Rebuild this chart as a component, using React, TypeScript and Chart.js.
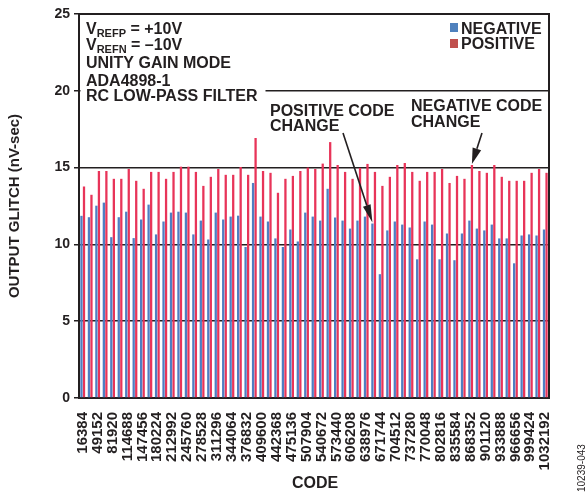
import React, { useEffect, useRef } from 'react';
import { Chart, registerables } from 'chart.js';

Chart.register(...registerables);

const codes = [
  '16384', '32768', '49152', '65536', '81920', '98304', '114688', '131072', '147456', '163840',
  '180224', '196608', '212992', '229376', '245760', '262144', '278528', '294912', '311296', '327680',
  '344064', '360448', '376832', '393216', '409600', '425984', '442368', '458752', '475136', '491520',
  '507904', '524288', '540672', '557056', '573440', '589824', '606208', '622592', '638976', '655360',
  '671744', '688128', '704512', '720896', '737280', '753664', '770048', '786432', '802816', '819200',
  '835584', '851968', '868352', '884736', '901120', '917504', '933888', '950272', '966656', '983040',
  '999424', '1015808', '1032192',
];

const negativeGlitch = [
  11.86, 11.77, 12.52, 12.72, 10.47, 11.77, 12.13, 10.41, 11.62, 12.59,
  10.65, 11.49, 12.07, 12.13, 12.07, 10.65, 11.55, 10.32, 12.07, 11.62,
  11.81, 11.87, 9.83, 14.0, 11.81, 11.49, 10.39, 9.83, 10.97, 10.19,
  12.07, 11.81, 11.55, 13.62, 11.75, 11.55, 11.03, 11.55, 11.81, 11.36,
  8.06, 10.91, 11.49, 11.29, 11.1, 9.03, 11.49, 11.29, 9.03, 10.71,
  8.97, 10.71, 11.55, 11.03, 10.91, 11.29, 10.39, 10.39, 8.77, 10.58,
  10.65, 10.58, 10.97,
];

const positiveGlitch = [
  13.77, 13.23, 14.78, 14.78, 14.27, 14.27, 14.91, 14.14, 13.62, 14.72,
  14.72, 14.27, 14.72, 15.06, 15.06, 14.72, 13.81, 14.4, 14.91, 14.53,
  14.53, 15.04, 14.53, 16.92, 14.78, 14.66, 13.36, 14.27, 14.46, 14.78,
  15.0, 14.91, 15.26, 16.66, 15.17, 14.72, 14.27, 14.98, 15.24, 14.72,
  13.81, 14.4, 15.17, 15.3, 14.72, 14.14, 14.72, 14.72, 14.91, 14.0,
  14.46, 14.27, 15.17, 14.78, 14.66, 15.17, 14.4, 14.14, 14.14, 14.14,
  14.66, 14.91, 14.66,
];

const yTicks = [0, 5, 10, 15, 20, 25];

const FONT = '"Liberation Sans", Arial, Helvetica, sans-serif';
const INK = '#231f20';
const BLUE = '#4f7ec2';
const RED = '#e83459';
const LEG_BLUE = '#4f81bd';
const LEG_RED = '#c0504d';

function drawArrow(ctx: CanvasRenderingContext2D, x1: number, y1: number, x2: number, y2: number, headLen: number, headW: number) {
  const ang = Math.atan2(y2 - y1, x2 - x1);
  const bx = x2 - headLen * Math.cos(ang);
  const by = y2 - headLen * Math.sin(ang);
  ctx.beginPath();
  ctx.moveTo(x1, y1);
  ctx.lineTo(bx, by);
  ctx.lineWidth = 1.6;
  ctx.strokeStyle = INK;
  ctx.stroke();
  const px = -Math.sin(ang) * headW / 2;
  const py = Math.cos(ang) * headW / 2;
  ctx.beginPath();
  ctx.moveTo(x2, y2);
  ctx.lineTo(bx + px, by + py);
  ctx.lineTo(bx - px, by - py);
  ctx.closePath();
  ctx.fillStyle = INK;
  ctx.fill();
}

function drawSubLine(ctx: CanvasRenderingContext2D, x: number, y: number, main: string, sub: string, rest: string) {
  ctx.font = `bold 16px ${FONT}`;
  ctx.fillText(main, x, y);
  let cx = x + ctx.measureText(main).width;
  ctx.font = `bold 11px ${FONT}`;
  ctx.fillText(sub, cx, y + 3);
  cx += ctx.measureText(sub).width;
  ctx.font = `bold 16px ${FONT}`;
  ctx.fillText(rest, cx, y);
}

const overlayPlugin = {
  id: 'overlayPlugin',
  afterDraw(chart: any) {
    const ctx: CanvasRenderingContext2D = chart.ctx;
    const a = chart.chartArea;
    ctx.save();

    // white patch behind the note block (hides part of the 20 gridline)
    ctx.fillStyle = '#ffffff';
    ctx.fillRect(a.left + 1.5, 84, 264 - a.left, 12);

    // frame top and right
    ctx.strokeStyle = INK;
    ctx.lineWidth = 2;
    ctx.beginPath();
    ctx.moveTo(a.left, a.top);
    ctx.lineTo(a.right, a.top);
    ctx.lineTo(a.right, a.bottom);
    ctx.stroke();

    ctx.fillStyle = INK;
    ctx.textAlign = 'left';
    ctx.textBaseline = 'alphabetic';

    // note block
    const nx = 86;
    drawSubLine(ctx, nx, 34, 'V', 'REFP', ' = +10V');
    drawSubLine(ctx, nx, 50, 'V', 'REFN', ' = \u201310V');
    ctx.font = `bold 16px ${FONT}`;
    ctx.fillText('UNITY GAIN MODE', nx, 68);
    ctx.fillText('ADA4898-1', nx, 85.5);
    ctx.fillText('RC LOW-PASS FILTER', nx, 101);

    // legend
    ctx.fillStyle = LEG_BLUE;
    ctx.fillRect(450, 23, 8, 9);
    ctx.fillStyle = LEG_RED;
    ctx.fillRect(450, 39, 8, 9);
    ctx.fillStyle = INK;
    ctx.fillText('NEGATIVE', 461, 33.5);
    ctx.fillText('POSITIVE', 461, 48.5);

    // annotations
    ctx.fillText('POSITIVE CODE', 270, 116);
    ctx.fillText('CHANGE', 270, 130.5);
    ctx.fillText('NEGATIVE CODE', 411, 111);
    ctx.fillText('CHANGE', 411, 127);

    const negMeta = chart.getDatasetMeta(0);
    const posMeta = chart.getDatasetMeta(1);
    const pBar = negMeta.data[39];
    const nBar = posMeta.data[52];
    if (pBar) drawArrow(ctx, 343, 133, pBar.x, pBar.y - 1, 18, 8);
    if (nBar) drawArrow(ctx, 482, 133, nBar.x, nBar.y - 1, 16, 9);

    // axis titles
    ctx.fillStyle = INK;
    ctx.font = `bold 15px ${FONT}`;
    ctx.textAlign = 'center';
    ctx.textBaseline = 'middle';
    ctx.save();
    ctx.translate(15, (a.top + a.bottom) / 2);
    ctx.rotate(-Math.PI / 2);
    ctx.fillText('OUTPUT GLITCH (nV-sec)', 0, 0);
    ctx.restore();

    ctx.font = `bold 16px ${FONT}`;
    ctx.textBaseline = 'alphabetic';
    ctx.fillText('CODE', 315, 488);

    // figure id
    ctx.save();
    ctx.translate(582, 492);
    ctx.rotate(-Math.PI / 2);
    ctx.font = `10px ${FONT}`;
    ctx.textAlign = 'left';
    ctx.textBaseline = 'middle';
    ctx.fillText('10239-043', 0, 0);
    ctx.restore();

    ctx.restore();
  },
};

export default function App() {
  const canvasRef = useRef<HTMLCanvasElement | null>(null);

  useEffect(() => {
    const canvas = canvasRef.current;
    if (!canvas) return;
    const chart = new Chart(canvas, {
      type: 'bar',
      data: {
        labels: codes,
        datasets: [
          {
            label: 'NEGATIVE',
            data: negativeGlitch,
            backgroundColor: BLUE,
            borderWidth: 0,
            categoryPercentage: 0.68,
            barPercentage: 0.9,
          },
          {
            label: 'POSITIVE',
            data: positiveGlitch,
            backgroundColor: RED,
            borderWidth: 0,
            categoryPercentage: 0.68,
            barPercentage: 0.9,
          },
        ],
      },
      options: {
        responsive: false,
        animation: false,
        devicePixelRatio: 1,
        layout: { padding: { top: 14, right: 37, left: 0, bottom: 0 } },
        plugins: {
          legend: { display: false },
          tooltip: { enabled: false },
          title: { display: false },
        },
        scales: {
          x: {
            type: 'category',
            grid: { display: false },
            border: { display: true, color: INK, width: 2 },
            ticks: {
              autoSkip: false,
              maxRotation: 90,
              minRotation: 90,
              padding: 6,
              color: INK,
              font: { family: FONT, size: 15, weight: 'bold' },
              callback: (_v: any, i: number) => (i % 2 === 0 ? codes[i] : ''),
            },
            afterFit: (scale: any) => {
              scale.height = 95;
            },
          },
          y: {
            min: yTicks[0],
            max: yTicks[yTicks.length - 1],
            afterBuildTicks: (scale: any) => {
              scale.ticks = yTicks.map((v) => ({ value: v }));
            },
            grid: {
              color: INK,
              lineWidth: 1.5,
              tickLength: 5,
              drawTicks: true,
            },
            border: { display: true, color: INK, width: 2 },
            ticks: {
              padding: 4,
              color: INK,
              font: { family: FONT, size: 14, weight: 'bold' },
            },
            afterFit: (scale: any) => {
              scale.width = 79;
            },
          },
        },
      },
      plugins: [overlayPlugin],
    } as any);
    return () => chart.destroy();
  }, []);

  return (
    <div style={{ position: 'absolute', left: 0, top: 0, width: 586, height: 493, background: '#ffffff' }}>
      <canvas ref={canvasRef} width={586} height={493} style={{ display: 'block' }} />
    </div>
  );
}
